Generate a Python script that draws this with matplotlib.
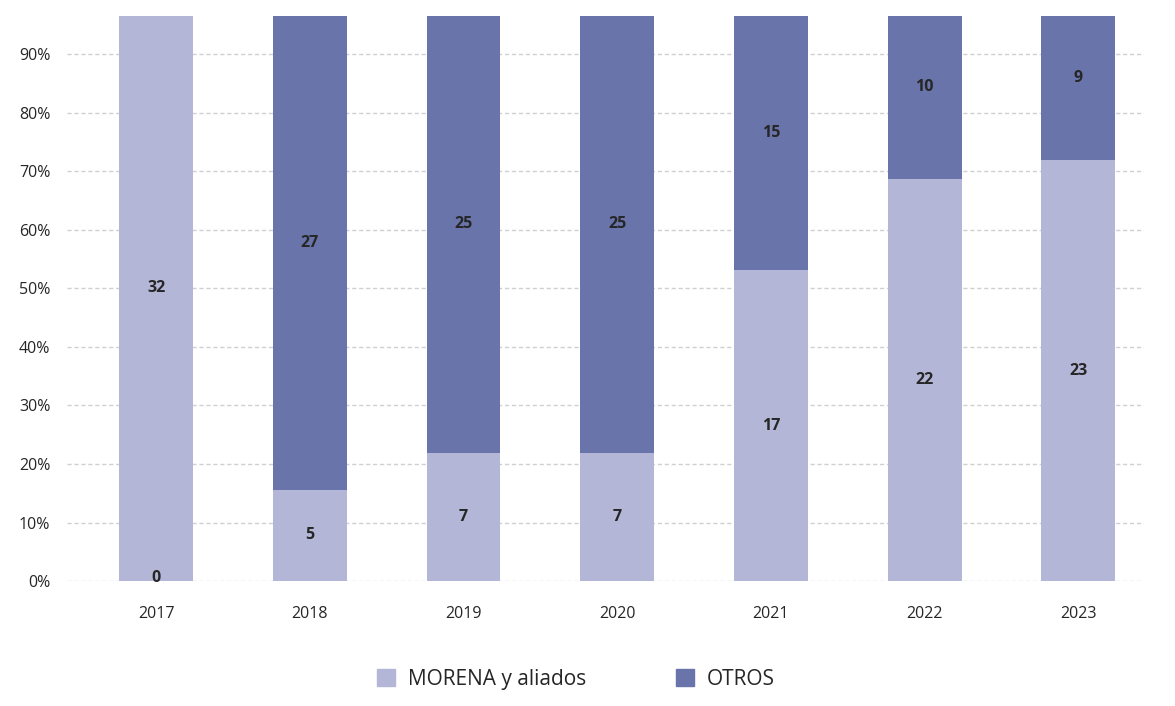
import numpy as np
import matplotlib
matplotlib.use("Agg")
import matplotlib.pyplot as plt
from matplotlib.patches import Patch

plt.rcParams['font.family'] = ['Open Sans', 'DejaVu Sans']

# ── data ──────────────────────────────────────────────────────────────────────
years   = ["2017", "2018", "2019", "2020", "2021", "2022", "2023"]
morena  = [0, 5, 7, 7, 17, 22, 23]
otros   = [32, 27, 25, 25, 15, 10, 9]
y_ticks = [0, 10, 20, 30, 40, 50, 60, 70, 80, 90]

C_LIGHT = "#b3b6d6"
C_DARK  = "#6874aa"
C_TEXT  = "#262626"

morena = np.array(morena, float)
otros  = np.array(otros, float)
tot    = morena + otros
p_m    = morena / tot
p_o    = otros / tot
x      = np.arange(len(years))

fig = plt.figure(figsize=(11.75, 7.06), dpi=100)
ax = fig.add_axes([0.057, 0.177, 0.917, 0.8])

# 2017 bar is drawn all light in the source chart
col_o = [C_LIGHT if m == 0 else C_DARK for m in morena]

w = 0.48
ax.bar(x, p_m, w, color=C_LIGHT, zorder=2)
ax.bar(x, p_o, w, bottom=p_m, color=col_o, zorder=2)

for i in range(len(x)):
    ym = p_m[i] / 2 if morena[i] > 0 else 0.006
    ax.text(x[i], ym, f"{morena[i]:.0f}", ha="center", va="center",
            fontsize=11.5, fontweight="bold", color=C_TEXT, zorder=3)
    ax.text(x[i], p_m[i] + p_o[i] / 2, f"{otros[i]:.0f}", ha="center",
            va="center", fontsize=11.5, fontweight="bold", color=C_TEXT, zorder=3)

ax.set_xlim(-0.58, 6.43)
ax.set_ylim(0, 0.965)
ax.set_yticks([v / 100 for v in y_ticks])
ax.set_yticklabels([f"{v}%" for v in y_ticks])
ax.set_xticks(x)
ax.set_xticklabels(years)
ax.tick_params(axis="both", length=0, labelsize=11.5, colors=C_TEXT)
ax.tick_params(axis="x", pad=18)
ax.tick_params(axis="y", pad=12)
ax.yaxis.grid(True, color="#d0d0d0", ls=(0, (3, 2)), lw=1.0, zorder=0)
ax.set_axisbelow(True)
for s in ax.spines.values():
    s.set_visible(False)

handles = [Patch(color=C_LIGHT, label="MORENA y aliados"),
           Patch(color=C_DARK, label="OTROS")]
fig.legend(handles=handles, loc="center", bbox_to_anchor=(0.49, 0.038), ncol=2,
           frameon=False, fontsize=15, handlelength=0.9, handleheight=0.9,
           handletextpad=0.6, columnspacing=4.3, labelcolor=C_TEXT)

fig.savefig("out.png", dpi=100)
